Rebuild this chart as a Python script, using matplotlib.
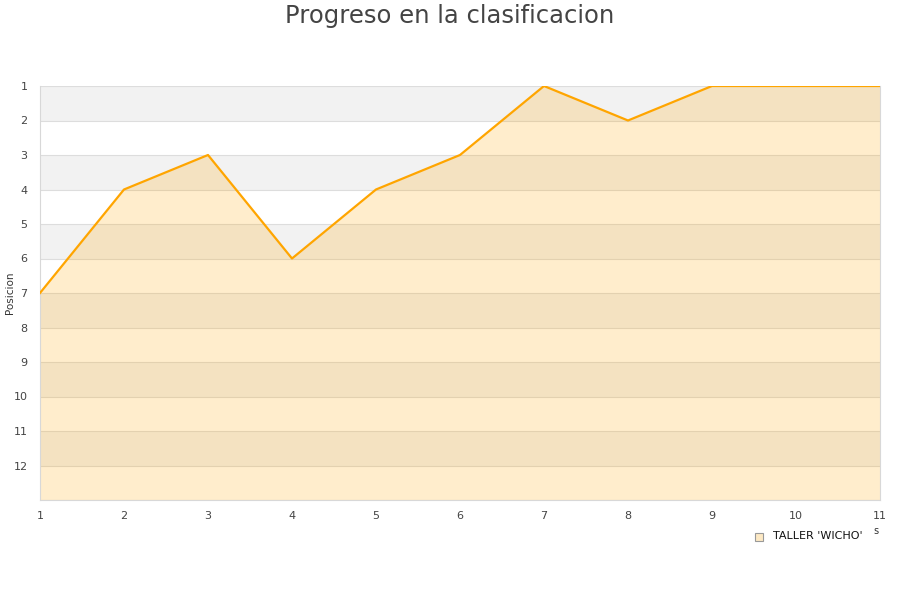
import matplotlib.pyplot as plt

jornadas = [1, 2, 3, 4, 5, 6, 7, 8, 9, 10, 11]
posicion = [7, 4, 3, 6, 4, 3, 1, 2, 1, 1, 1]
equipo = "TALLER 'WICHO'"
y_ticks = list(range(1, 13))

fig = plt.figure(figsize=(9, 6), dpi=100)
ax = fig.add_axes([40 / 900, 100 / 600, 840 / 900, 414 / 600])

# alternating background bands
for k in range(1, 13, 2):
    ax.axhspan(k, k + 1, color='#f2f2f2', zorder=0, lw=0)
for k in range(1, 14):
    ax.axhline(k, color='#dddddd', lw=0.8, zorder=1)

ax.fill_between(jornadas, posicion, 13, color='orange', alpha=0.2, lw=0, zorder=2)
ax.plot(jornadas, posicion, color='#ffa500', lw=1.6, zorder=3)

ax.set_xlim(1, 11)
ax.set_ylim(13, 1)
ax.set_yticks(y_ticks)
ax.set_xticks(jornadas)
ax.tick_params(length=0, labelsize=8, colors='#444444', pad=8)
ax.tick_params(axis='y', pad=9)
ax.spines['top'].set_visible(False)
for s in ['left', 'bottom', 'right']:
    ax.spines[s].set_color('#d8d8d8')

ax.set_ylabel("Posicion", fontsize=7.5, color='#333333')
ax.yaxis.set_label_coords(-25 / 840, 0.5)
fig.suptitle("Progreso en la clasificacion", fontsize=17.5, color='#444444', y=0.993)

# legend
fig.patches.append(plt.Rectangle((755 / 900, 1 - 541 / 600), 8 / 900, 8 / 600,
                                 transform=fig.transFigure, facecolor='#fde9c4',
                                 edgecolor='#999999', lw=0.8))
fig.text(773 / 900, 1 - 536 / 600, equipo, fontsize=8, color='#111111', va='center')
fig.text(873 / 900, 1 - 531 / 600, "s", fontsize=7, color='#333333', va='center')

fig.savefig('out.png', dpi=100)
